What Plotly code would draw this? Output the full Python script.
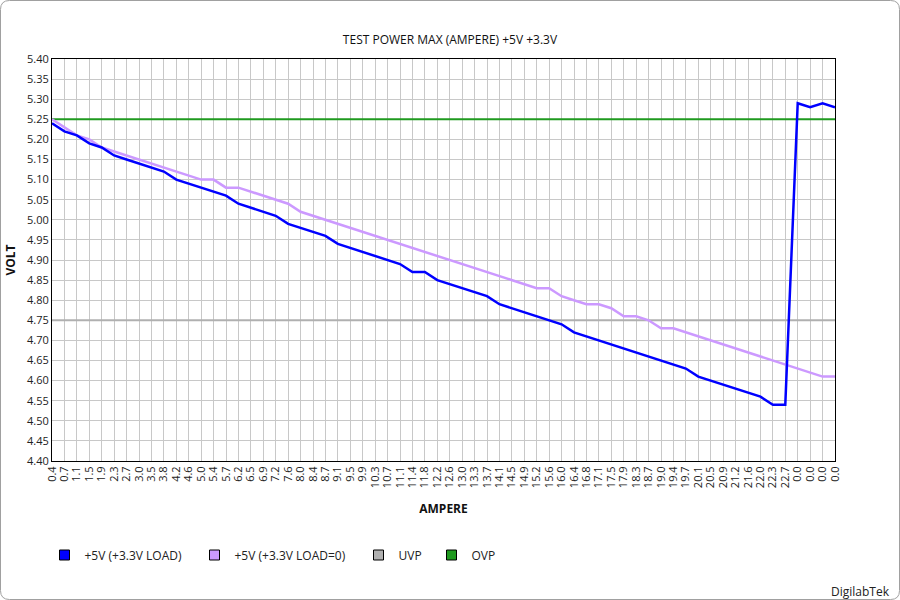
import plotly.graph_objects as go

AMPERE_LABELS = ["0.4", "0.7", "1.1", "1.5", "1.9", "2.3", "2.7", "3.0", "3.5", "3.8",
                 "4.2", "4.6", "5.0", "5.4", "5.7", "6.2", "6.5", "6.9", "7.2", "7.6",
                 "8.0", "8.4", "8.7", "9.1", "9.5", "9.9", "10.3", "10.7", "11.1", "11.4",
                 "11.8", "12.2", "12.6", "13.0", "13.3", "13.7", "14.1", "14.5", "14.9", "15.2",
                 "15.6", "16.0", "16.4", "16.8", "17.1", "17.5", "17.9", "18.3", "18.7", "19.0",
                 "19.4", "19.7", "20.1", "20.5", "20.9", "21.2", "21.6", "22.0", "22.3", "22.7",
                 "0.0", "0.0", "0.0", "0.0"]

V5_LOAD = [5.24, 5.22, 5.21, 5.19, 5.18, 5.16, 5.15, 5.14, 5.13, 5.12,
           5.10, 5.09, 5.08, 5.07, 5.06, 5.04, 5.03, 5.02, 5.01, 4.99,
           4.98, 4.97, 4.96, 4.94, 4.93, 4.92, 4.91, 4.90, 4.89, 4.87,
           4.87, 4.85, 4.84, 4.83, 4.82, 4.81, 4.79, 4.78, 4.77, 4.76,
           4.75, 4.74, 4.72, 4.71, 4.70, 4.69, 4.68, 4.67, 4.66, 4.65,
           4.64, 4.63, 4.61, 4.60, 4.59, 4.58, 4.57, 4.56, 4.54, 4.54,
           5.29, 5.28, 5.29, 5.28]

V5_NOLOAD = [5.25, 5.23, 5.21, 5.20, 5.18, 5.17, 5.16, 5.15, 5.14, 5.13,
             5.12, 5.11, 5.10, 5.10, 5.08, 5.08, 5.07, 5.06, 5.05, 5.04,
             5.02, 5.01, 5.00, 4.99, 4.98, 4.97, 4.96, 4.95, 4.94, 4.93,
             4.92, 4.91, 4.90, 4.89, 4.88, 4.87, 4.86, 4.85, 4.84, 4.83,
             4.83, 4.81, 4.80, 4.79, 4.79, 4.78, 4.76, 4.76, 4.75, 4.73,
             4.73, 4.72, 4.71, 4.70, 4.69, 4.68, 4.67, 4.66, 4.65, 4.64,
             4.63, 4.62, 4.61, 4.61]

UVP_LEVEL = 4.75
OVP_LEVEL = 5.25
UVP = [UVP_LEVEL] * len(AMPERE_LABELS)
OVP = [OVP_LEVEL] * len(AMPERE_LABELS)

SERIES_NAMES = ["+5V (+3.3V LOAD)", "+5V (+3.3V LOAD=0)", "UVP", "OVP"]
SERIES_COLORS = ["#0000ff", "#cc99ff", "#b0b0b0", "#1f9a1f"]
SERIES_WIDTHS = [2.5, 2.5, 2, 2]

x_idx = list(range(len(AMPERE_LABELS)))
FONT = "Open Sans, Noto Sans, sans-serif"

fig = go.Figure()
# draw order: reference lines first, then data
for name, vals, color, width in [
    (SERIES_NAMES[2], UVP, SERIES_COLORS[2], SERIES_WIDTHS[2]),
    (SERIES_NAMES[3], OVP, SERIES_COLORS[3], SERIES_WIDTHS[3]),
    (SERIES_NAMES[1], V5_NOLOAD, SERIES_COLORS[1], SERIES_WIDTHS[1]),
    (SERIES_NAMES[0], V5_LOAD, SERIES_COLORS[0], SERIES_WIDTHS[0]),
]:
    fig.add_trace(go.Scatter(x=x_idx, y=vals, mode="lines", name=name,
                             line=dict(color=color, width=width),
                             showlegend=False,
                             hovertemplate="%{text}: %{y:.2f}<extra>" + name + "</extra>",
                             text=AMPERE_LABELS))

L, R, T, B = 52, 65, 59, 139
W, H = 900, 600
pw, ph = W - L - R, H - T - B


def px_x(p):
    return (p - L) / pw


def px_y(p):
    return (H - B - p) / ph


# legend entries with square swatches, each in its own positioned legend
LEGEND_SWATCH_CENTERS = [67, 217, 381, 454]
legend_ids = ["legend", "legend2", "legend3", "legend4"]
legend_layouts = {}
for i, (name, color) in enumerate(zip(SERIES_NAMES, SERIES_COLORS)):
    fig.add_trace(go.Scatter(x=[None], y=[None], mode="markers", name=name,
                             legend=legend_ids[i],
                             marker=dict(symbol="square", size=10, color=color,
                                         line=dict(color="#000000", width=1))))
    legend_layouts[legend_ids[i]] = dict(
        orientation="h", x=px_x(LEGEND_SWATCH_CENTERS[i] - 22.5), xanchor="left",
        y=px_y(555), yanchor="middle", itemwidth=30,
        font=dict(family=FONT, size=12, color="#222222"),
        bgcolor="rgba(0,0,0,0)")

# rounded outer border
x0, x1, y0, y1, r = 0.5, 899.5, 0.5, 599.5, 9
path = (f"M {px_x(x0 + r)},{px_y(y0)} L {px_x(x1 - r)},{px_y(y0)} "
        f"Q {px_x(x1)},{px_y(y0)} {px_x(x1)},{px_y(y0 + r)} "
        f"L {px_x(x1)},{px_y(y1 - r)} "
        f"Q {px_x(x1)},{px_y(y1)} {px_x(x1 - r)},{px_y(y1)} "
        f"L {px_x(x0 + r)},{px_y(y1)} "
        f"Q {px_x(x0)},{px_y(y1)} {px_x(x0)},{px_y(y1 - r)} "
        f"L {px_x(x0)},{px_y(y0 + r)} "
        f"Q {px_x(x0)},{px_y(y0)} {px_x(x0 + r)},{px_y(y0)} Z")

fig.update_layout(
    width=W, height=H,
    margin=dict(l=L, r=R, t=T, b=B, pad=0),
    paper_bgcolor="white", plot_bgcolor="white",
    font=dict(family=FONT, size=11, color="#222222"),
    title=dict(text="TEST POWER MAX (AMPERE) +5V +3.3V", x=0.5, xanchor="center",
               y=1 - 40 / H, yanchor="middle",
               font=dict(family=FONT, size=12, color="#111111")),
    xaxis=dict(range=[0, len(AMPERE_LABELS) - 1], tickmode="array", tickvals=x_idx,
               ticktext=AMPERE_LABELS, tickangle=-90, showgrid=True,
               gridcolor="#c8c8c8", gridwidth=1, showline=True, linecolor="#000000",
               linewidth=1, mirror=True, ticks="", zeroline=False,
               tickfont=dict(family=FONT, size=11, color="#222222"),
               title=dict(text="<b>AMPERE</b>", standoff=17,
                          font=dict(family=FONT, size=12, color="#111111"))),
    yaxis=dict(range=[4.40, 5.40], dtick=0.05, tick0=4.40, tickformat=".2f",
               showgrid=True, gridcolor="#c8c8c8", gridwidth=1, showline=True,
               linecolor="#000000", linewidth=1, mirror=True, ticks="", zeroline=False,
               tickfont=dict(family=FONT, size=11, color="#222222"),
               title=dict(text="<b>VOLT</b>", standoff=8,
                          font=dict(family=FONT, size=12, color="#111111"))),
    shapes=[dict(type="path", xref="paper", yref="paper", path=path,
                 line=dict(color="#a0a0a0", width=1), fillcolor="rgba(0,0,0,0)", layer="below")],
    annotations=[dict(text="DigilabTek", xref="paper", yref="paper", x=px_x(892), y=px_y(591),
                      xanchor="right", yanchor="middle", showarrow=False,
                      font=dict(family=FONT, size=12, color="#222222"))],
    **legend_layouts,
)

fig.write_html("out.html", config={"displayModeBar": False},
               post_script="document.body.style.margin='0';document.body.style.padding='0';")
